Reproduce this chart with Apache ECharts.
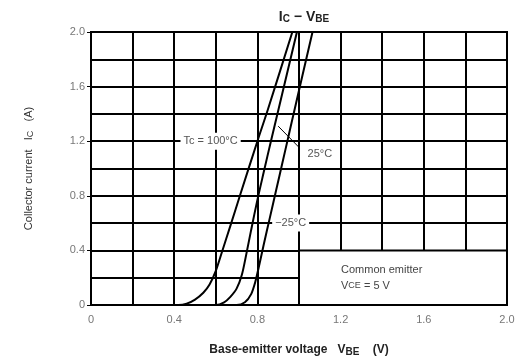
<!DOCTYPE html>
<html>
<head>
<meta charset="utf-8">
<script src="https://cdn.jsdelivr.net/npm/echarts@6/dist/echarts.min.js"></script>
<style>
  html,body{margin:0;padding:0;background:#fff;}
  #main{width:518px;height:358px;}
</style>
</head>
<body>
<div id="main"></div>
<script>
// Ic - Vbe curves [Vbe (V), Ic (A)]
var curve100 = [[0,0],[0.42,0],[0.46,0.01],[0.50,0.04],[0.54,0.09],[0.57,0.15],[0.60,0.25],[0.63,0.39],[0.67,0.58],[0.72,0.82],[0.80,1.2],[0.85,1.43],[0.968,2.0]];
var curve25  = [[0,0],[0.60,0],[0.64,0.02],[0.67,0.06],[0.70,0.12],[0.725,0.22],[0.745,0.36],[0.77,0.55],[0.80,0.77],[0.83,0.97],[0.865,1.2],[0.99,2.0]];
var curveM25 = [[0,0],[0.70,0],[0.74,0.02],[0.77,0.08],[0.79,0.17],[0.81,0.3],[0.83,0.44],[0.86,0.64],[0.89,0.84],[0.92,1.04],[0.95,1.24],[0.98,1.44],[1.065,2.0]];
var xLabels = ['0','0.4','0.8','1.2','1.6','2.0'];
var yLabels = ['0','0.4','0.8','1.2','1.6','2.0'];

var font = "'Liberation Sans', Arial, sans-serif";

function tickLabel(list){
  return function(v){
    var i = Math.round(v / 0.4);
    return list[i] || '';
  };
}

// 文字标签（白底遮住网格线）
function textMark(coord, text, color){
  return {
    coord: coord,
    symbol: 'rect',
    symbolSize: 0,
    label: {
      show: true,
      position: 'inside',
      formatter: text,
      color: color || '#555',
      fontSize: 11,
      fontFamily: font,
      backgroundColor: '#fff',
      padding: [3,3,3,3]
    }
  };
}

var myChart = echarts.init(document.getElementById('main'));
var lineStyle = { color: '#000', width: 2 };
var option = {
  animation: false,
  backgroundColor: '#fff',
  title: {
    text: 'I{s|C} − V{s|BE}',
    left: 299,
    textAlign: 'center',
    top: 5,
    textStyle: {
      fontSize: 14,
      fontWeight: 'bold',
      color: '#222',
      fontFamily: font,
      rich: { s: { fontSize: 10, fontWeight: 'bold', color: '#222', fontFamily: font, padding: [4,0,0,0] } }
    }
  },
  grid: {
    left: 91, right: 11, top: 32, bottom: 53,
    outerBoundsMode: 'none',
    containLabel: false,
    show: true,
    borderColor: '#000',
    borderWidth: 2
  },
  xAxis: {
    type: 'value',
    min: 0, max: 2.0, interval: 0.4,
    name: 'Base-emitter voltage   V{s|BE}    (V)',
    nameLocation: 'middle',
    nameGap: 37,
    nameTextStyle: {
      color: '#222', fontSize: 12, fontWeight: 'bold', fontFamily: font,
      rich: { s: { fontSize: 10, color: '#222', fontFamily: font, padding: [5,0,0,0] } }
    },
    axisLine: { show: true, lineStyle: { color: '#000', width: 2 } },
    axisTick: { show: false },
    axisLabel: { color: '#777', fontSize: 11, fontFamily: font, margin: 9, formatter: tickLabel(xLabels) },
    splitLine: { show: true, lineStyle: { color: '#000', width: 2 } },
    minorTick: { show: false, splitNumber: 2 },
    minorSplitLine: { show: true, lineStyle: { color: '#000', width: 2 } }
  },
  yAxis: {
    type: 'value',
    min: 0, max: 2.0, interval: 0.4,
    name: 'Collector current   I{s|C}   (A)',
    nameLocation: 'middle',
    nameGap: 56,
    nameTextStyle: {
      color: '#333', fontSize: 11, fontFamily: font,
      rich: { s: { fontSize: 9, color: '#333', fontFamily: font, padding: [4,0,0,0] } }
    },
    axisLine: { show: true, lineStyle: { color: '#000', width: 2 } },
    axisTick: { show: true, length: 4, lineStyle: { color: '#000', width: 1 } },
    axisLabel: { color: '#777', fontSize: 11, fontFamily: font, margin: 6, formatter: tickLabel(yLabels) },
    splitLine: { show: true, lineStyle: { color: '#000', width: 2 } },
    minorTick: { show: false, splitNumber: 2 },
    minorSplitLine: { show: true, lineStyle: { color: '#000', width: 2 } }
  },
  series: [
    {
      name: 'Tc = 100°C',
      type: 'line',
      data: curve100,
      smooth: 0.3,
      symbol: 'none',
      lineStyle: lineStyle,
      z: 5,
      markPoint: { data: [ textMark([0.575, 1.2], 'Tc = 100°C') ] },
      markArea: {
        silent: true,
        itemStyle: { color: '#fff', borderColor: '#000', borderWidth: 2 },
        label: {
          show: true,
          position: 'insideLeft',
          distance: 43,
          color: '#444',
          fontSize: 11,
          lineHeight: 16,
          fontFamily: font,
          formatter: 'Common emitter\nV{s|CE} = 5 V',
          rich: { s: { fontSize: 9, color: '#444', fontFamily: font, lineHeight: 16 } }
        },
        data: [[ { coord: [1.0, 0] }, { coord: [2.0, 0.4] } ]]
      }
    },
    {
      name: '25°C',
      type: 'line',
      data: curve25,
      smooth: 0.3,
      symbol: 'none',
      lineStyle: lineStyle,
      z: 5,
      markLine: {
        silent: true,
        symbol: ['none', 'none'],
        lineStyle: { color: '#000', width: 1, type: 'solid' },
        label: { show: false },
        data: [[ { coord: [0.9, 1.31] }, { coord: [1.0, 1.155] } ]]
      },
      markPoint: { data: [ textMark([1.1, 1.11], '25°C') ] }
    },
    {
      name: '-25°C',
      type: 'line',
      data: curveM25,
      smooth: 0.3,
      symbol: 'none',
      lineStyle: lineStyle,
      z: 5,
      markPoint: { data: [ textMark([0.96, 0.6], '−25°C') ] }
    }
  ]
};
myChart.setOption(option, true);
window.addEventListener('resize', function(){
  myChart.resize();
});
</script>
</body>
</html>
